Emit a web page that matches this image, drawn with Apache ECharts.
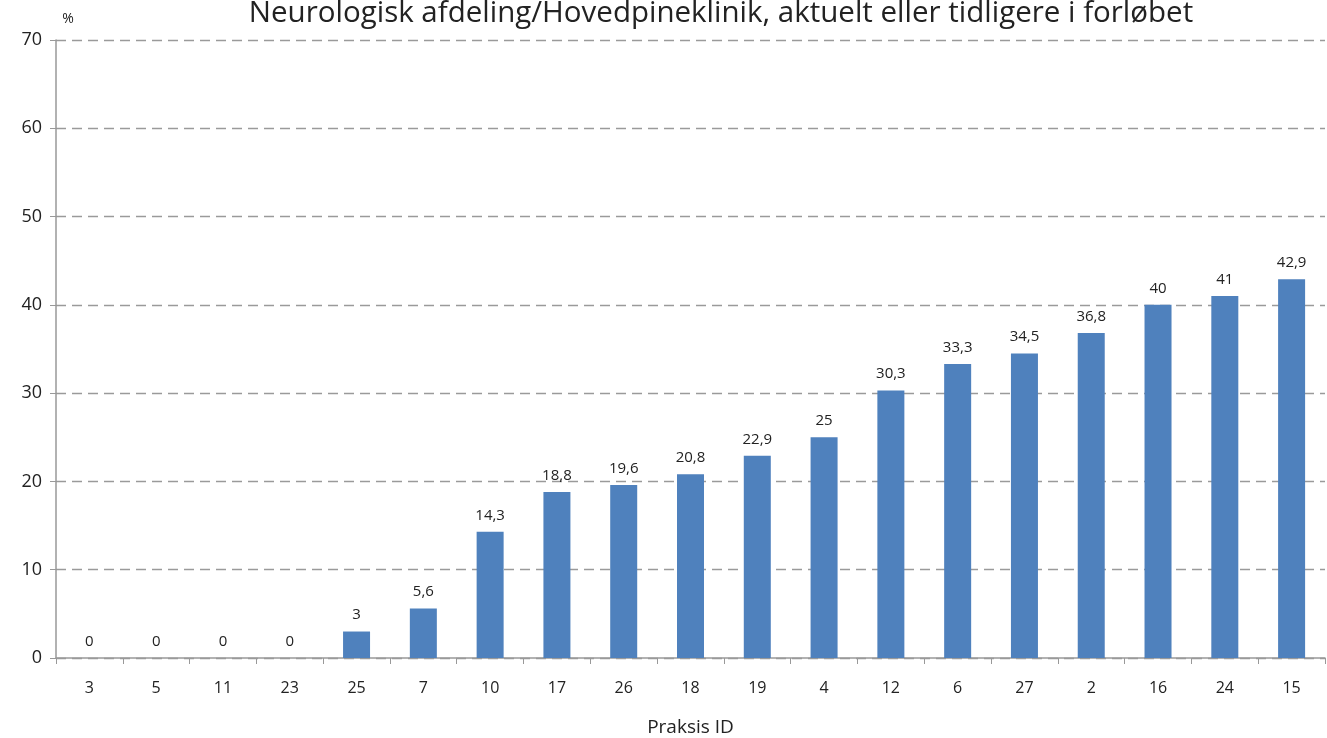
<!DOCTYPE html>
<html>
<head>
<meta charset="utf-8">
<script src="https://cdn.jsdelivr.net/npm/echarts@6/dist/echarts.min.js"></script>
<style>
  html, body { margin: 0; padding: 0; background: #fff; }
  #chart { width: 1327px; height: 738px; }
</style>
</head>
<body>
<div id="chart"></div>
<script>
// praksis id paa x-aksen
const categories = ['3', '5', '11', '23', '25', '7', '10', '17', '26', '18', '19', '4', '12', '6', '27', '2', '16', '24', '15']
// andel i procent
const values = [0, 0, 0, 0, 3, 5.6, 14.3, 18.8, 19.6, 20.8, 22.9, 25, 30.3, 33.3, 34.5, 36.8, 40, 41, 42.9]
const yTicks = [0, 10, 20, 30, 40, 50, 60, 70]

const fontFam = '"Open Sans", "Noto Sans", sans-serif'

const chart = echarts.init(document.getElementById('chart'))
chart.setOption({
  animation: false,
  title: {
    text: 'Neurologisk afdeling/Hovedpineklinik, aktuelt eller tidligere i forløbet',
    left: 716,
    textAlign: 'center',
    top: -6,
    textStyle: { fontFamily: fontFam, fontSize: 29.5, fontWeight: 'normal', color: '#222' }
  },
  grid: { left: 56, right: 2, top: 40, bottom: 80, outerBoundsMode: 'none' },
  xAxis: {
    type: 'category',
    data: categories,
    name: 'Praksis ID',
    nameLocation: 'middle',
    nameGap: 60,
    nameTextStyle: { fontFamily: fontFam, fontSize: 19, color: '#222' },
    axisLine: { lineStyle: { color: '#999', width: 1.5 } },
    axisTick: { show: true, length: 6, lineStyle: { color: '#999' } },
    axisLabel: { fontFamily: fontFam, fontSize: 16, color: '#222', margin: 22 }
  },
  yAxis: {
    type: 'value',
    min: yTicks[0],
    max: yTicks[yTicks.length - 1],
    interval: 10,
    name: '%',
    nameLocation: 'end',
    nameGap: 14,
    nameTextStyle: { fontFamily: fontFam, fontSize: 14, color: '#222', align: 'center', padding: [0, 0, 0, 24] },
    axisLine: { show: true, lineStyle: { color: '#999', width: 1.5 } },
    axisTick: { show: true, length: 6, lineStyle: { color: '#999' } },
    axisLabel: { fontFamily: fontFam, fontSize: 18, color: '#222', margin: 14 },
    splitLine: { lineStyle: { color: '#9a9a9a', type: [10, 6], width: 1.3 } }
  },
  series: [{
    type: 'bar',
    data: values,
    barWidth: 27,
    itemStyle: { color: '#4F81BD' },
    label: {
      show: true,
      position: 'top',
      distance: 9,
      fontFamily: fontFam,
      fontSize: 15,
      color: '#222',
      formatter: p => String(p.value).replace('.', ',')
    }
  }]
})
</script>
</body>
</html>
